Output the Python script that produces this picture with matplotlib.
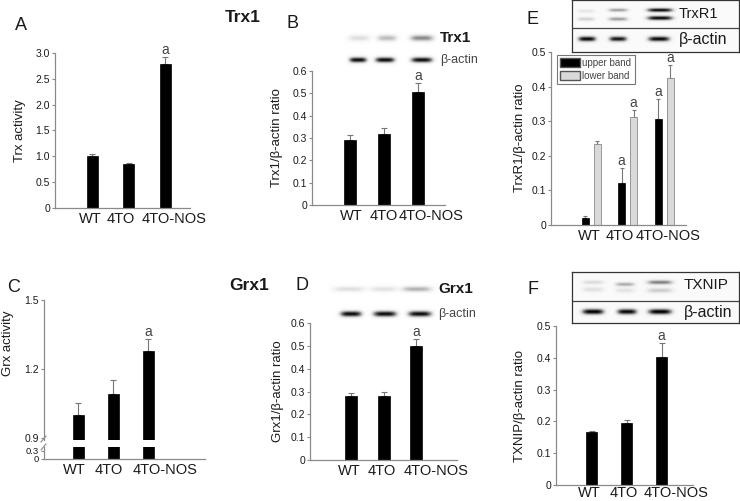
import numpy as np
import matplotlib
matplotlib.use("Agg")
import matplotlib.pyplot as plt
from matplotlib.patches import Patch
from matplotlib.lines import Line2D

plt.rcParams['font.family'] = ['Liberation Sans', 'DejaVu Sans']

# ---------------- data ----------------
groups = ["WT", "4TO", "4TO-NOS"]

trx_activity = [1.00, 0.85, 2.78]
trx_activity_err = [0.04, 0.02, 0.15]

trx1_ratio = [0.29, 0.32, 0.505]
trx1_ratio_err = [0.025, 0.025, 0.04]

trxr1_upper = [0.02, 0.12, 0.305]
trxr1_upper_err = [0.005, 0.045, 0.058]
trxr1_lower = [0.235, 0.313, 0.425]
trxr1_lower_err = [0.008, 0.02, 0.037]

grx_activity = [1.00, 1.09, 1.28]
grx_activity_err = [0.05, 0.06, 0.05]

grx1_ratio = [0.28, 0.28, 0.50]
grx1_ratio_err = [0.013, 0.018, 0.03]

txnip_ratio = [0.167, 0.195, 0.403]
txnip_ratio_err = [0.003, 0.01, 0.043]

# blot band intensities (0..1)
trx1_band = [0.22, 0.38, 0.55]
trx1_actin_band = [0.97, 0.97, 0.97]
grx1_band = [0.22, 0.20, 0.42]
grx1_actin_band = [0.97, 0.97, 0.97]
trxr1_upper_band = [0.15, 0.45, 0.95]
trxr1_lower_band = [0.25, 0.45, 0.95]
trxr1_actin_band = [0.95, 0.90, 0.95]
txnip_band = [0.35, 0.40, 0.55]
txnip_actin_band = [0.98, 0.95, 0.98]

# ---------------- layout helpers ----------------
W, H = 740, 501
fig = plt.figure(figsize=(W / 100, H / 100), dpi=100)
fig.patch.set_facecolor("white")

def px_axes(x0, y0, x1, y1):
    return fig.add_axes([x0 / W, 1 - y1 / H, (x1 - x0) / W, (y1 - y0) / H])

def ftext(x, y, s, **kw):
    fig.text(x / W, 1 - y / H, s, **kw)

SPINE = "#8a8a8a"
TXT = "#1a1a1a"
ERR = "#777777"
XLAB = 10.5

def style_axes(ax, xpad=3):
    for s in ["top", "right"]:
        ax.spines[s].set_visible(False)
    for s in ["left", "bottom"]:
        ax.spines[s].set_color(SPINE)
        ax.spines[s].set_linewidth(0.9)
    ax.tick_params(axis="y", direction="out", length=2.5, width=0.8, color=SPINE,
                   labelsize=7.5, labelcolor=TXT, pad=1)
    ax.tick_params(axis="x", length=0, labelsize=XLAB, labelcolor=TXT, pad=xpad)
    ax.set_facecolor("none")

def set_group_labels(ax, label_px, c0, spacing):
    ax.set_xticks([(p - c0) / spacing for p in label_px])
    ax.set_xticklabels(groups)

def simple_bar_panel(box, vals, errs, ylim, yticks, yticklabels, centers, width, ylabel, ylabel_x,
                     label_px, sig=(2,), xpad=3):
    x0, y0, x1, y1 = box
    spacing = (centers[2] - centers[0]) / 2.0
    ax = px_axes(*box)
    pos = np.arange(len(vals))
    ax.bar(pos, vals, width=width / spacing, color="black", edgecolor="black", linewidth=0.5, zorder=2)
    ax.errorbar(pos, vals, yerr=[np.zeros(len(errs)), errs], fmt="none", ecolor=ERR,
                elinewidth=0.8, capsize=2, capthick=0.8, zorder=1)
    ax.set_xlim((x0 - centers[0]) / spacing, (x1 - centers[0]) / spacing)
    ax.set_ylim(*ylim)
    ax.set_yticks(yticks)
    ax.set_yticklabels(yticklabels)
    style_axes(ax, xpad)
    set_group_labels(ax, label_px, centers[0], spacing)
    for i in sig:
        ax.text(pos[i], vals[i] + errs[i], "a", ha="center", va="bottom", fontsize=10, color="#444444")
    ftext(ylabel_x, (y0 + y1) / 2, ylabel, rotation=90, ha="center", va="center", fontsize=9.5, color=TXT)
    return ax

def blot(box, bands, framed=False, divider=None, bg=0.04):
    """bands: list of (cx, cy, half_w, half_h, intensity) in figure px."""
    x0, y0, x1, y1 = box
    ax = px_axes(*box)
    xs = np.linspace(x0, x1, int((x1 - x0) * 3))
    ys = np.linspace(y0, y1, int((y1 - y0) * 3))
    X, Y = np.meshgrid(xs, ys)
    img = np.full(X.shape, bg)
    for cx, cy, hw, hh, inten in bands:
        img += inten * np.exp(-((X - cx) / hw) ** 4) * np.exp(-((Y - cy) / hh) ** 2)
    img = np.clip(img, 0, 1)
    ax.imshow(img, cmap="Greys", vmin=0, vmax=1, extent=(x0, x1, y1, y0), aspect="auto",
              interpolation="bilinear")
    ax.set_xlim(x0, x1)
    ax.set_ylim(y1, y0)
    ax.set_xticks([])
    ax.set_yticks([])
    for s in ax.spines.values():
        s.set_visible(framed)
        s.set_color("#333333")
        s.set_linewidth(0.9)
    if divider is not None:
        ax.axhline(divider, color="#444444", lw=0.9)
    return ax

# ---------------- Panel A ----------------
simple_bar_panel((55, 53, 190, 208), trx_activity, trx_activity_err, (0, 3.0),
                 [0, 0.5, 1.0, 1.5, 2.0, 2.5, 3.0], ["0", "0.5", "1.0", "1.5", "2.0", "2.5", "3.0"],
                 (92, 129, 165), 11, "Trx activity", 20, (90, 121, 174))
ftext(21, 26, "A", fontsize=13, ha="center", va="center", color=TXT)
ftext(243, 18, "Trx1", fontsize=12.5, fontweight="bold", ha="center", va="center", color=TXT)

# ---------------- Panel B ----------------
simple_bar_panel((312, 71, 445, 205), trx1_ratio, trx1_ratio_err, (0, 0.6),
                 [0, 0.1, 0.2, 0.3, 0.4, 0.5, 0.6], ["0", "0.1", "0.2", "0.3", "0.4", "0.5", "0.6"],
                 (350, 385, 418), 12, "Trx1/β-actin ratio", 277, (351, 384, 431))
ftext(292, 24, "B", fontsize=13, ha="center", va="center", color=TXT)
blot((340, 28, 438, 70),
     [(359, 38, 11, 3.2, trx1_band[0]), (387, 38, 10, 3.2, trx1_band[1]), (422, 38, 12, 3.2, trx1_band[2]),
      (358, 60, 9, 2.8, trx1_actin_band[0]), (385, 60, 10, 2.8, trx1_actin_band[1]),
      (422, 60, 11, 2.8, trx1_actin_band[2])], bg=0.0)
ftext(440, 38, "Trx1", fontsize=11, fontweight="bold", ha="left", va="center", color=TXT)
ftext(440, 60, "β-actin", fontsize=9, ha="left", va="center", color="#444444")

# ---------------- Panel E ----------------
axE = px_axes(551, 52, 686, 225)
posE = np.arange(3)
spE = 36.5
bwE = 7 / spE
offE = 6 / spE
axE.bar(posE - offE, trxr1_upper, width=bwE, color="black", edgecolor="black", linewidth=0.5, zorder=2)
axE.bar(posE + offE, trxr1_lower, width=bwE, color="#d9d9d9", edgecolor="#8a8a8a", linewidth=0.6, zorder=2)
axE.errorbar(posE - offE, trxr1_upper, yerr=[np.zeros(3), trxr1_upper_err], fmt="none", ecolor=ERR,
             elinewidth=0.8, capsize=1.5, capthick=0.8, zorder=1)
axE.errorbar(posE + offE, trxr1_lower, yerr=[np.zeros(3), trxr1_lower_err], fmt="none", ecolor=ERR,
             elinewidth=0.8, capsize=1.5, capthick=0.8, zorder=1)
axE.set_xlim((551 - 591) / spE, (686 - 591) / spE)
axE.set_ylim(0, 0.5)
axE.set_yticks([0, 0.1, 0.2, 0.3, 0.4, 0.5])
axE.set_yticklabels(["0", "0.1", "0.2", "0.3", "0.4", "0.5"])
style_axes(axE)
set_group_labels(axE, (589, 620, 668), 591, spE)
for i in [1, 2]:
    axE.text(posE[i] - offE, trxr1_upper[i] + trxr1_upper_err[i], "a", ha="center", va="bottom",
             fontsize=10, color="#444444")
    axE.text(posE[i] + offE, trxr1_lower[i] + trxr1_lower_err[i], "a", ha="center", va="bottom",
             fontsize=10, color="#444444")
leg = axE.legend(handles=[Patch(facecolor="black", edgecolor="#555555", label="upper band"),
                          Patch(facecolor="#d9d9d9", edgecolor="#555555", label="lower band")],
                 loc="upper left", bbox_to_anchor=(0.045, 0.985), fontsize=7, frameon=True,
                 fancybox=False, handlelength=2.0, handleheight=1.1, handletextpad=0.25,
                 borderpad=0.35, labelspacing=0.3, borderaxespad=0)
leg.get_frame().set_edgecolor("#555555")
leg.get_frame().set_linewidth(0.8)
for t in leg.get_texts():
    t.set_color("#444444")
ftext(520, 138, "TrxR1/β-actin ratio", rotation=90, ha="center", va="center", fontsize=9.5, color=TXT)
ftext(533, 19, "E", fontsize=13, ha="center", va="center", color=TXT)
blot((572, 0, 739, 52),
     [(586, 11, 9, 1.8, trxr1_upper_band[0]), (618, 10, 10, 1.8, trxr1_upper_band[1]),
      (660, 10, 13, 2.0, trxr1_upper_band[2]),
      (586, 19, 9, 2.0, trxr1_lower_band[0]), (618, 19, 10, 2.0, trxr1_lower_band[1]),
      (660, 18, 13, 2.2, trxr1_lower_band[2]),
      (587, 39, 9, 2.6, trxr1_actin_band[0]), (618, 39, 9, 2.6, trxr1_actin_band[1]),
      (659, 39, 11, 2.6, trxr1_actin_band[2])], framed=True, divider=28)
ftext(679, 14, "TrxR1", fontsize=10.5, ha="left", va="center", color=TXT)
ftext(679, 39, "β-actin", fontsize=11.5, ha="left", va="center", color=TXT)

# ---------------- Panel C (broken axis) ----------------
spC = 35.0
posC = np.arange(3)
bwC = 11 / spC
xlimC = ((44 - 78) / spC, (205 - 78) / spC)
axCu = px_axes(44, 300, 205, 440)
axCl = px_axes(44, 447, 205, 459)
for ax in (axCu, axCl):
    ax.bar(posC, grx_activity, width=bwC, color="black", edgecolor="black", linewidth=0.5, zorder=2)
    ax.set_xlim(*xlimC)
    style_axes(ax)
axCu.errorbar(posC, grx_activity, yerr=[np.zeros(3), grx_activity_err], fmt="none", ecolor=ERR,
              elinewidth=0.8, capsize=2, capthick=0.8, zorder=1)
axCu.set_ylim(0.8913, 1.5)
axCu.set_yticks([0.9, 1.2, 1.5])
axCu.set_yticklabels(["0.9", "1.2", "1.5"])
axCu.spines["bottom"].set_visible(False)
axCu.set_xticks([])
axCu.text(posC[2], grx_activity[2] + grx_activity_err[2], "a", ha="center", va="bottom",
          fontsize=10, color="#444444")
axCl.set_ylim(0, 0.45)
axCl.set_yticks([0, 0.3])
axCl.set_yticklabels(["0", "0.3"])
axCl.tick_params(axis="y", labelsize=6.8)
set_group_labels(axCl, (74, 109, 165), 78, spC)
fig.add_artist(Line2D([41 / W, 46 / W], [1 - 442 / H, 1 - 436 / H], color=SPINE, lw=0.8))
fig.add_artist(Line2D([41 / W, 46 / W], [1 - 450 / H, 1 - 444 / H], color=SPINE, lw=0.8))
ftext(8, 343, "Grx activity", rotation=90, ha="center", va="center", fontsize=9.5, color=TXT)
ftext(14, 288, "C", fontsize=13, ha="center", va="center", color=TXT)
ftext(249, 286, "Grx1", fontsize=12.5, fontweight="bold", ha="center", va="center", color=TXT)

# ---------------- Panel D ----------------
simple_bar_panel((310, 323, 457, 460), grx1_ratio, grx1_ratio_err, (0, 0.6),
                 [0, 0.1, 0.2, 0.3, 0.4, 0.5, 0.6], ["0", "0.1", "0.2", "0.3", "0.4", "0.5", "0.6"],
                 (351, 383.5, 416), 12, "Grx1/β-actin ratio", 278, (349, 382, 436))
ftext(302, 285, "D", fontsize=13, ha="center", va="center", color=TXT)
blot((328, 280, 436, 322),
     [(349, 289, 16, 2.8, grx1_band[0]), (384, 289, 14, 2.8, grx1_band[1]), (417, 289, 15, 2.8, grx1_band[2]),
      (351, 314, 11, 3.0, grx1_actin_band[0]), (385, 314, 12, 3.0, grx1_actin_band[1]),
      (420, 314, 12, 3.0, grx1_actin_band[2])], bg=0.0)
ftext(438, 289, "Grx1", fontsize=11, fontweight="bold", ha="left", va="center", color=TXT)
ftext(438, 314, "β-actin", fontsize=9, ha="left", va="center", color="#444444")

# ---------------- Panel F ----------------
simple_bar_panel((556, 326, 693, 485), txnip_ratio, txnip_ratio_err, (0, 0.5),
                 [0, 0.1, 0.2, 0.3, 0.4, 0.5], ["0", "0.1", "0.2", "0.3", "0.4", "0.5"],
                 (591.5, 626.5, 661.5), 11, "TXNIP/β-actin ratio", 520, (589, 624, 676), xpad=0.5)
ftext(533, 289, "F", fontsize=13, ha="center", va="center", color=TXT)
blot((572, 272, 739, 323),
     [(593, 283, 11, 2.0, txnip_band[0] * 0.6), (593, 290, 11, 2.5, txnip_band[0] * 0.5),
      (625, 285, 10, 2.0, txnip_band[1]), (625, 291, 10, 2.5, txnip_band[1] * 0.4),
      (660, 283, 13, 2.2, txnip_band[2]), (660, 291, 13, 2.5, txnip_band[2] * 0.5),
      (593, 312, 11, 2.8, txnip_actin_band[0]), (627, 312, 10, 2.8, txnip_actin_band[1]),
      (660, 312, 12, 2.8, txnip_actin_band[2])], framed=True, divider=301)
ftext(684, 285, "TXNIP", fontsize=11, ha="left", va="center", color=TXT)
ftext(684, 312, "β-actin", fontsize=11.5, ha="left", va="center", color=TXT)

fig.savefig("out.png", dpi=100, facecolor="white")
